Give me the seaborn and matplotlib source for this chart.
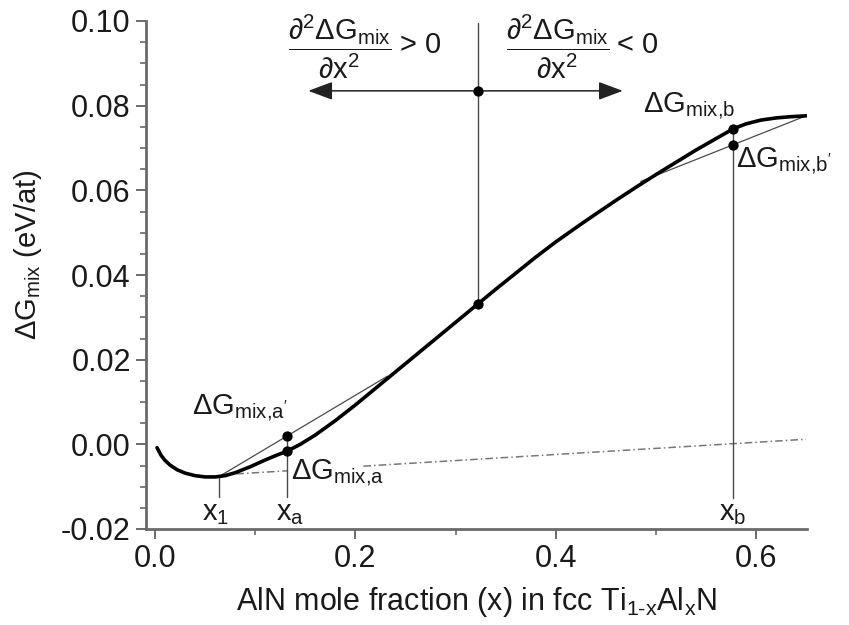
import numpy as np
import pandas as pd
import seaborn as sns
import matplotlib
matplotlib.use("Agg")
import matplotlib.pyplot as plt
from matplotlib.patches import FancyArrowPatch
from matplotlib.ticker import MultipleLocator

# ---------------- data ----------------
x_curve = [0.002, 0.006, 0.010, 0.015, 0.022, 0.030, 0.040, 0.050, 0.060, 0.070,
           0.080, 0.095, 0.110, 0.120, 0.132, 0.145, 0.160, 0.180, 0.200, 0.220,
           0.240, 0.260, 0.280, 0.300, 0.322, 0.340, 0.360, 0.380, 0.400, 0.424,
           0.440, 0.460, 0.480, 0.500, 0.520, 0.540, 0.560, 0.577, 0.590, 0.605,
           0.620, 0.635, 0.650]
dG_curve = [-0.0008, -0.0026, -0.0038, -0.0049, -0.0060, -0.0068, -0.0074, -0.0077, -0.0077, -0.0074,
            -0.0067, -0.0053, -0.0037, -0.0027, -0.0016, 0.0000, 0.0022, 0.0056, 0.0093, 0.0132,
            0.0171, 0.0210, 0.0249, 0.0288, 0.0331, 0.0366, 0.0404, 0.0442, 0.0478, 0.0518,
            0.0544, 0.0576, 0.0607, 0.0637, 0.0666, 0.0695, 0.0722, 0.0745, 0.0757, 0.0766,
            0.0771, 0.0774, 0.0776]

chord_left_x = [0.064, 0.232]
chord_left_y = [-0.0076, 0.0161]
chord_right_x = [0.485, 0.650]
chord_right_y = [0.0621, 0.0776]
dashdot_x = [0.066, 0.650]
dashdot_y = [-0.0072, 0.0012]

marker_names = ["x1", "xa", "xb", "xinfl"]
marker_x = [0.064, 0.132, 0.577, 0.322]
marker_top = [-0.0076, 0.0020, 0.0745, 0.0995]
marker_bottom = [-0.0125, -0.0125, -0.0127, 0.0331]

dot_x = [0.132, 0.132, 0.322, 0.322, 0.577, 0.577]
dot_y = [-0.0016, 0.0020, 0.0331, 0.0835, 0.0745, 0.0707]

arrow_x = [0.153, 0.467]
arrow_y = 0.0835

xticks = [0.0, 0.2, 0.4, 0.6]
xtick_labels = ["0.0", "0.2", "0.4", "0.6"]
yticks = [-0.02, 0.00, 0.02, 0.04, 0.06, 0.08, 0.10]
ytick_labels = ["-0.02", "0.00", "0.02", "0.04", "0.06", "0.08", "0.10"]

# ---------------- style ----------------
sns.set_theme(style="ticks")
plt.rcParams["font.family"] = ["Liberation Sans", "DejaVu Sans"]
plt.rcParams["mathtext.fontset"] = "custom"
plt.rcParams["mathtext.rm"] = "Liberation Sans"
plt.rcParams["mathtext.it"] = "Liberation Sans:italic"
plt.rcParams["mathtext.bf"] = "Liberation Sans:bold"
plt.rcParams["mathtext.sf"] = "Liberation Sans"

FS = 22
FS_LAB = 21
TXT = "#1a1a1a"
AX = "#6a6a6a"
THIN = "#4a4a4a"

fig = plt.figure(figsize=(8.49, 6.25), dpi=100)
ax = fig.add_axes([0.172, 0.1536, 0.7786, 0.8128])

df_curve = pd.DataFrame({"x": x_curve, "dG": dG_curve})
sns.lineplot(data=df_curve, x="x", y="dG", ax=ax, color="black", lw=2.6,
             sort=False, estimator=None, zorder=4)

sns.lineplot(x=chord_left_x, y=chord_left_y, ax=ax, color=THIN, lw=0.9,
             estimator=None, sort=False, zorder=3)
sns.lineplot(x=chord_right_x, y=chord_right_y, ax=ax, color=THIN, lw=0.9,
             estimator=None, sort=False, zorder=3)

# dash-dot line, with a gap behind the ΔG_mix,a label
slope = (dashdot_y[1] - dashdot_y[0]) / (dashdot_x[1] - dashdot_x[0])
gap = (0.132, 0.208)
seg1_x = [dashdot_x[0], gap[0]]
seg2_x = [gap[1], dashdot_x[1]]
for sx in (seg1_x, seg2_x):
    sy = [dashdot_y[0] + slope * (v - dashdot_x[0]) for v in sx]
    ax.plot(sx, sy, color="#777777", lw=1.1, linestyle=(0, (5, 2, 1, 2)), zorder=2)

for mx, mt, mb in zip(marker_x, marker_top, marker_bottom):
    ax.plot([mx, mx], [mb, mt], color=THIN, lw=1.0, zorder=3)

sns.scatterplot(x=dot_x, y=dot_y, ax=ax, color="black", s=55, edgecolor="black",
                linewidth=0, zorder=6)

arr = FancyArrowPatch((arrow_x[0], arrow_y), (arrow_x[1], arrow_y),
                      arrowstyle="<|-|>,head_length=0.75,head_width=0.28",
                      mutation_scale=20, color="#222222", lw=1.1, zorder=5,
                      shrinkA=0, shrinkB=0)
ax.add_patch(arr)

# ---------------- texts ----------------
frac = r"$\dfrac{\partial^2\Delta\mathrm{G}_{\mathrm{mix}}}{\partial\mathrm{x}^2}$"
ax.text(0.185, 0.0940, frac, ha="center", va="center", fontsize=FS_LAB, color=TXT)
ax.text(0.245, 0.0943, "> 0", ha="left", va="center", fontsize=FS_LAB, color=TXT)
ax.text(0.402, 0.0940, frac, ha="center", va="center", fontsize=FS_LAB, color=TXT)
ax.text(0.461, 0.0943, "< 0", ha="left", va="center", fontsize=FS_LAB, color=TXT)

ax.text(0.487, 0.0783, r"$\Delta\mathrm{G}_{\mathrm{mix{,}b}}$", ha="left", va="baseline",
        fontsize=FS_LAB, color=TXT)
ax.text(0.580, 0.0653, r"$\Delta\mathrm{G}_{\mathrm{mix{,}b'}}$", ha="left", va="baseline",
        fontsize=FS_LAB, color=TXT)
ax.text(0.037, 0.0069, r"$\Delta\mathrm{G}_{\mathrm{mix{,}a'}}$", ha="left", va="baseline",
        fontsize=FS_LAB, color=TXT)
ax.text(0.136, -0.0084, r"$\Delta\mathrm{G}_{\mathrm{mix{,}a}}$", ha="left", va="baseline",
        fontsize=FS_LAB, color=TXT)
ax.text(0.060, -0.0179, r"$\mathrm{x}_{\mathrm{1}}$", ha="center", va="baseline",
        fontsize=FS_LAB, color=TXT)
ax.text(0.135, -0.0179, r"$\mathrm{x}_{\mathrm{a}}$", ha="center", va="baseline",
        fontsize=FS_LAB, color=TXT)
ax.text(0.577, -0.0180, r"$\mathrm{x}_{\mathrm{b}}$", ha="center", va="baseline",
        fontsize=FS_LAB, color=TXT)

# ---------------- axes ----------------
ax.set_xlim(-0.009, 0.651)
ax.set_ylim(-0.02, 0.10)
ax.set_xticks(xticks)
ax.set_xticklabels(xtick_labels)
ax.set_yticks(yticks)
ax.set_yticklabels(ytick_labels)
ax.xaxis.set_minor_locator(MultipleLocator(0.1))
ax.yaxis.set_minor_locator(MultipleLocator(0.005))
ax.tick_params(axis="both", which="major", direction="out", length=7, width=1.4,
               color=AX, labelsize=FS, labelcolor=TXT, pad=4)
ax.tick_params(axis="both", which="minor", direction="out", length=4, width=1.2, color=AX)
sns.despine(ax=ax)
for side in ("left", "bottom"):
    ax.spines[side].set_color(AX)
    ax.spines[side].set_linewidth(2.0)

ax.set_xlabel(r"AlN mole fraction (x) in fcc Ti$_{\mathrm{1\text{-}x}}$Al$_{\mathrm{x}}$N",
              fontsize=FS, color=TXT, labelpad=8)
ax.set_ylabel(r"$\Delta\mathrm{G}_{\mathrm{mix}}$ (eV/at)", fontsize=FS - 1, color=TXT)
ax.yaxis.set_label_coords(-0.155, 0.54)

fig.savefig("out.png", dpi=100)
